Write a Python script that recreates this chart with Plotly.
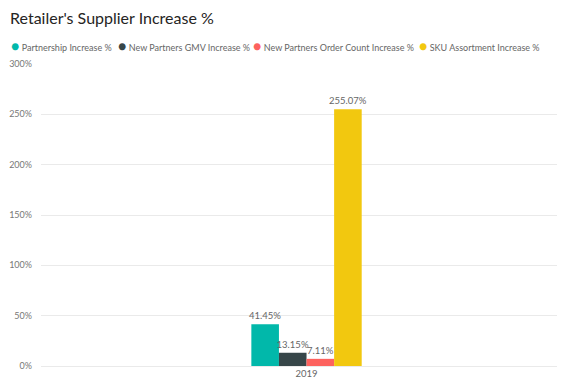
import plotly.graph_objects as go

categories = ["2019"]
series_names = [
    "Partnership Increase %",
    "New Partners GMV Increase %",
    "New Partners Order Count Increase %",
    "SKU Assortment Increase %",
]
series_values = [[41.45], [13.15], [7.11], [255.07]]
series_colors = ["#01B8AA", "#374649", "#FD625E", "#F2C80F"]
y_tick_values = [0, 50, 100, 150, 200, 250, 300]
y_tick_labels = ["0%", "50%", "100%", "150%", "200%", "250%", "300%"]

# the page body adds an 8px offset; build the figure 8px smaller and shift
OFF = 8
W, H = 565 - OFF, 387 - OFF
L, R, T, B = 41 - OFF, 1, 64 - OFF, 21
FONT = "Lato, 'Segoe UI', sans-serif"

fig = go.Figure()
for name, vals, col in zip(series_names, series_values, series_colors):
    fig.add_trace(go.Bar(
        x=categories, y=vals, name=name, marker_color=col,
        marker_line_width=0,
        text=[f"{v:.2f}%" for v in vals], textposition="outside",
        constraintext="none",
        textfont=dict(family=FONT, size=9.5, color="#666666"),
        cliponaxis=False, showlegend=False,
    ))

# legend drawn as text annotations (circle + name)
legend_x_px = [9, 116, 251, 417]
pw = W - L - R
ph = H - T - B
annotations = []
for name, col, px in zip(series_names, series_colors, legend_x_px):
    annotations.append(dict(
        x=(px - OFF - L) / pw, xref="paper", xanchor="left",
        y=1 + (T - (45 - OFF)) / ph, yref="paper", yanchor="middle",
        text=f"<span style='color:{col};font-size:14px'>●</span> {name}",
        showarrow=False,
        font=dict(family=FONT, size=9, color="#666666"),
    ))

fig.update_layout(
    width=W, height=H,
    margin=dict(l=L, r=R, t=T, b=B, pad=0),
    paper_bgcolor="white", plot_bgcolor="white",
    barmode="group", bargap=0.789, bargroupgap=0,
    title=dict(text="Retailer's Supplier Increase %", x=(10 - OFF) / W, xanchor="left",
               y=1 - (18 - OFF) / H, yanchor="middle",
               font=dict(family=FONT, size=16, color="#252423")),
    annotations=annotations,
    xaxis=dict(range=[-0.5077, 0.4923], showline=False, showgrid=False,
               zeroline=False, ticks="",
               tickfont=dict(family=FONT, size=9.5, color="#666666")),
    yaxis=dict(range=[0, 300], tickvals=y_tick_values, ticktext=y_tick_labels,
               showgrid=True, gridcolor="#EAEAEA", gridwidth=1,
               zeroline=True, zerolinecolor="#EAEAEA", zerolinewidth=1,
               showline=False, ticks="", ticklabelstandoff=8,
               tickfont=dict(family=FONT, size=9, color="#777777")),
)

fig.write_html("out.html")
